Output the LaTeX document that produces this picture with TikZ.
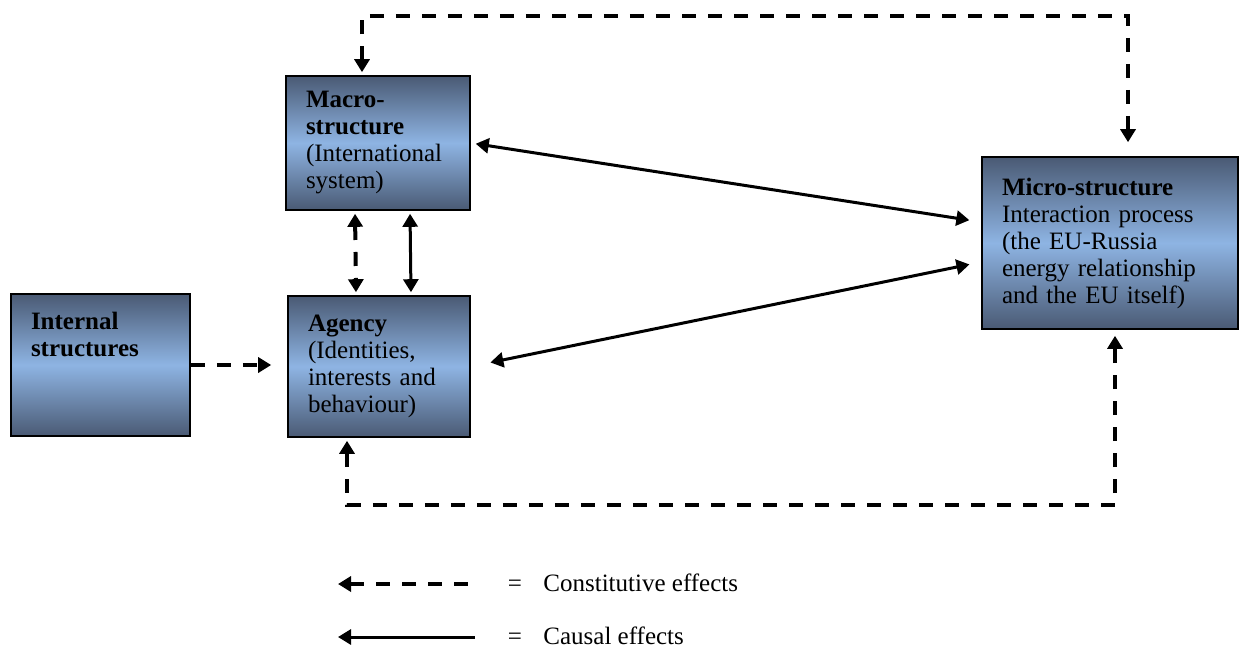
\documentclass[tikz,border=0pt]{standalone}
\usepackage{fontspec}
\setmainfont{Liberation Serif}
\usetikzlibrary{arrows.meta}
\definecolor{sombre}{HTML}{4A5A74}
\definecolor{clair}{HTML}{8EB4E3}

\begin{document}
\begin{tikzpicture}[x=0.5pt,y=-0.5pt,font=\fontsize{12.5}{13.5}\selectfont,
  >={Triangle[length=6.5pt,width=7.5pt]}]
\tikzstyle{lien}=[<->,line width=1.5pt]
\tikzstyle{constit}=[line width=2pt,dash pattern=on 7pt off 6pt]
\tikzset{bloc/.style={draw,line width=0.8pt,top color=sombre,bottom color=sombre,
  middle color=clair,align=left,inner xsep=10pt,inner ysep=0pt}}
\useasboundingbox (0,0) rectangle (1240,649);

\node[bloc,text width=72pt,minimum height=67pt] (A1) at (378,143)
  {\textbf{Macro-}\\\textbf{structure}\\(International\\system)};
\node[bloc,text width=71pt,minimum height=70.5pt] (A2) at (379,366.5)
  {\textbf{Agency}\\(Identities,\\interests and\\behaviour)};
\node[bloc,text width=69.5pt,minimum height=71pt] (A0) at (100.5,365)
  {\textbf{Internal}\\\textbf{structures}\\\strut\\\strut};
\node[bloc,text width=108pt,minimum height=86pt] (B) at (1110,243)
  {\textbf{Micro-structure}\\Interaction process\\(the EU-Russia\\energy relationship\\and the EU itself)};

\draw[constit,->,shorten >=8pt] (A0.east) -- (A0.east -| A2.west);
\draw[constit,<->,shorten <=1.5pt,shorten >=1.5pt] ([xshift=-11.5pt]A1.south) -- ([xshift=-11.5pt]A2.north);
\draw[lien,shorten <=1.5pt,shorten >=1.5pt] ([xshift=16pt]A1.south) -- ([xshift=16pt]A2.north);
\draw[lien,shorten <=2.5pt,shorten >=6pt] (A1.east) -- ([yshift=10.5pt]B.west);
\draw[lien,shorten <=10pt,shorten >=6pt] (A2.east) -- ([yshift=-9.5pt]B.west);

\coordinate (haut) at (0,16);
\coordinate (bas) at (0,505);
\coordinate (P1) at ([xshift=-8pt]A1.north);
\coordinate (P2) at ([xshift=9pt]B.north);
\draw[constit,<->,shorten <=1.5pt,shorten >=7pt] (P1) -- (P1 |- haut) -- (P2 |- haut) -- (P2);
\coordinate (Q1) at ([xshift=-16pt]A2.south);
\coordinate (Q2) at ([xshift=2.5pt]B.south);
\draw[constit,<->,shorten <=1.5pt,shorten >=3pt] (Q1) -- (Q1 |- bas) -- (Q2 |- bas) -- (Q2);

\coordinate (L1) at (338,584);
\coordinate (L1b) at (475,584);
\coordinate (L2) at (338,637);
\coordinate (L2b) at (475,637);
\draw[constit,<-] (L1) -- (L1b);
\draw[line width=1.5pt,<-] (L2) -- (L2b);
\node[anchor=base,inner sep=0pt] (E1) at (515,591) {=};
\node[anchor=base west,inner sep=0pt] (T1) at (543,591) {Constitutive effects};
\node[anchor=base,inner sep=0pt] (E2) at (515,644) {=};
\node[anchor=base west,inner sep=0pt] (T2) at (543,644) {Causal effects};

\end{tikzpicture}
\end{document}
